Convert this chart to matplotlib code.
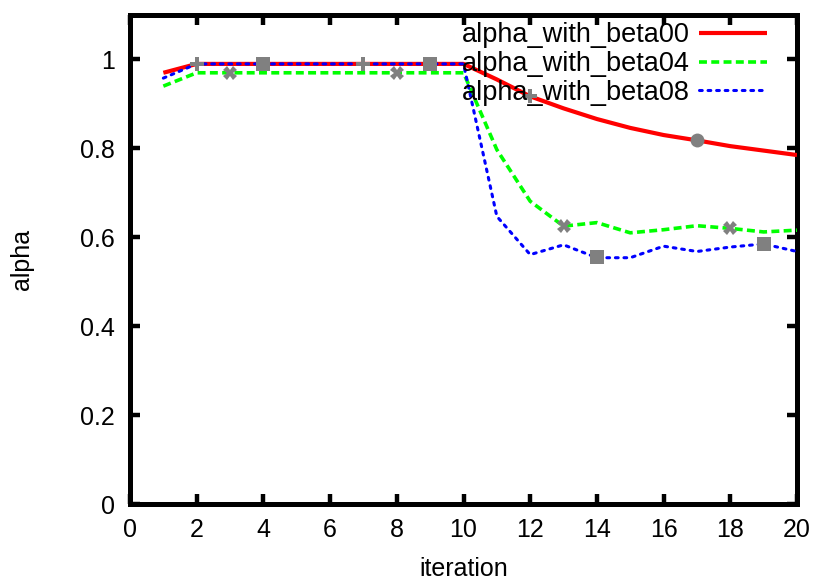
import matplotlib
matplotlib.use("Agg")
import matplotlib.pyplot as plt

iterations = list(range(1, 21))
alpha_beta00 = [0.97, 0.99, 0.99, 0.99, 0.99, 0.99, 0.99, 0.99, 0.99, 0.99,
                0.955, 0.917, 0.89, 0.866, 0.846, 0.830, 0.818, 0.805, 0.795, 0.785]
alpha_beta04 = [0.94, 0.97, 0.97, 0.97, 0.97, 0.97, 0.97, 0.97, 0.97, 0.97,
                0.797, 0.681, 0.625, 0.633, 0.610, 0.617, 0.626, 0.620, 0.612, 0.616]
alpha_beta08 = [0.958, 0.99, 0.99, 0.99, 0.99, 0.99, 0.99, 0.99, 0.99, 0.99,
                0.647, 0.561, 0.583, 0.554, 0.554, 0.580, 0.568, 0.578, 0.585, 0.568]

# sample points highlighted in grey: (iteration, alpha, marker)
sample_x = [2, 3, 4, 7, 8, 9, 12, 13, 14, 17, 18, 19]
sample_y = [0.99, 0.97, 0.99, 0.99, 0.97, 0.99, 0.917, 0.625, 0.555, 0.818, 0.62, 0.585]
sample_m = ['P', 'X', 's', 'P', 'X', 's', 'P', 'X', 's', 'o', 'X', 's']

x_ticks = [0, 2, 4, 6, 8, 10, 12, 14, 16, 18, 20]
y_ticks = [0, 0.2, 0.4, 0.6, 0.8, 1]
y_tick_labels = ['0', '0.2', '0.4', '0.6', '0.8', '1']

plt.rcParams['font.family'] = ['Liberation Sans', 'DejaVu Sans']

fig = plt.figure(figsize=(8.19, 5.83), dpi=100)
ax = fig.add_axes([130 / 819, 1 - 504 / 583, 667 / 819, 489 / 583])

ax.plot(iterations, alpha_beta00, color='#ff0000', lw=3.0, solid_capstyle='butt',
        label='alpha_with_beta00', zorder=3)
ax.plot(iterations, alpha_beta04, color='#00ff00', lw=2.6, dashes=(2.2, 1.2),
        label='alpha_with_beta04', zorder=3)
ax.plot(iterations, alpha_beta08, color='#0000ff', lw=2.2, dashes=(0.9, 1.9),
        dash_capstyle='round', label='alpha_with_beta08', zorder=3)

for xv, yv, m in zip(sample_x, sample_y, sample_m):
    ax.plot([xv], [yv], marker=m, color='#808080', markersize=10, mew=0,
            linestyle='none', zorder=4)

ax.set_xlim(0, 20)
ax.set_ylim(0, 1.1)
ax.set_xticks(x_ticks)
ax.set_yticks(y_ticks)
ax.set_yticklabels(y_tick_labels)
ax.tick_params(direction='in', length=7, width=3.2, labelsize=18,
               top=True, right=True, pad=11)
ax.tick_params(axis='x', pad=10)
for sp in ax.spines.values():
    sp.set_linewidth(3.6)

ax.set_xlabel('iteration', fontsize=18, labelpad=11)
ax.set_ylabel('alpha', fontsize=18, labelpad=33)

leg = ax.legend(loc='upper right', bbox_to_anchor=(0.955, 0.985), frameon=False,
                markerfirst=False, fontsize=19.5, handlelength=2.5,
                handletextpad=0.37, labelspacing=0.1, borderaxespad=0.0,
                borderpad=0.0)

fig.savefig('out.png', dpi=100)
